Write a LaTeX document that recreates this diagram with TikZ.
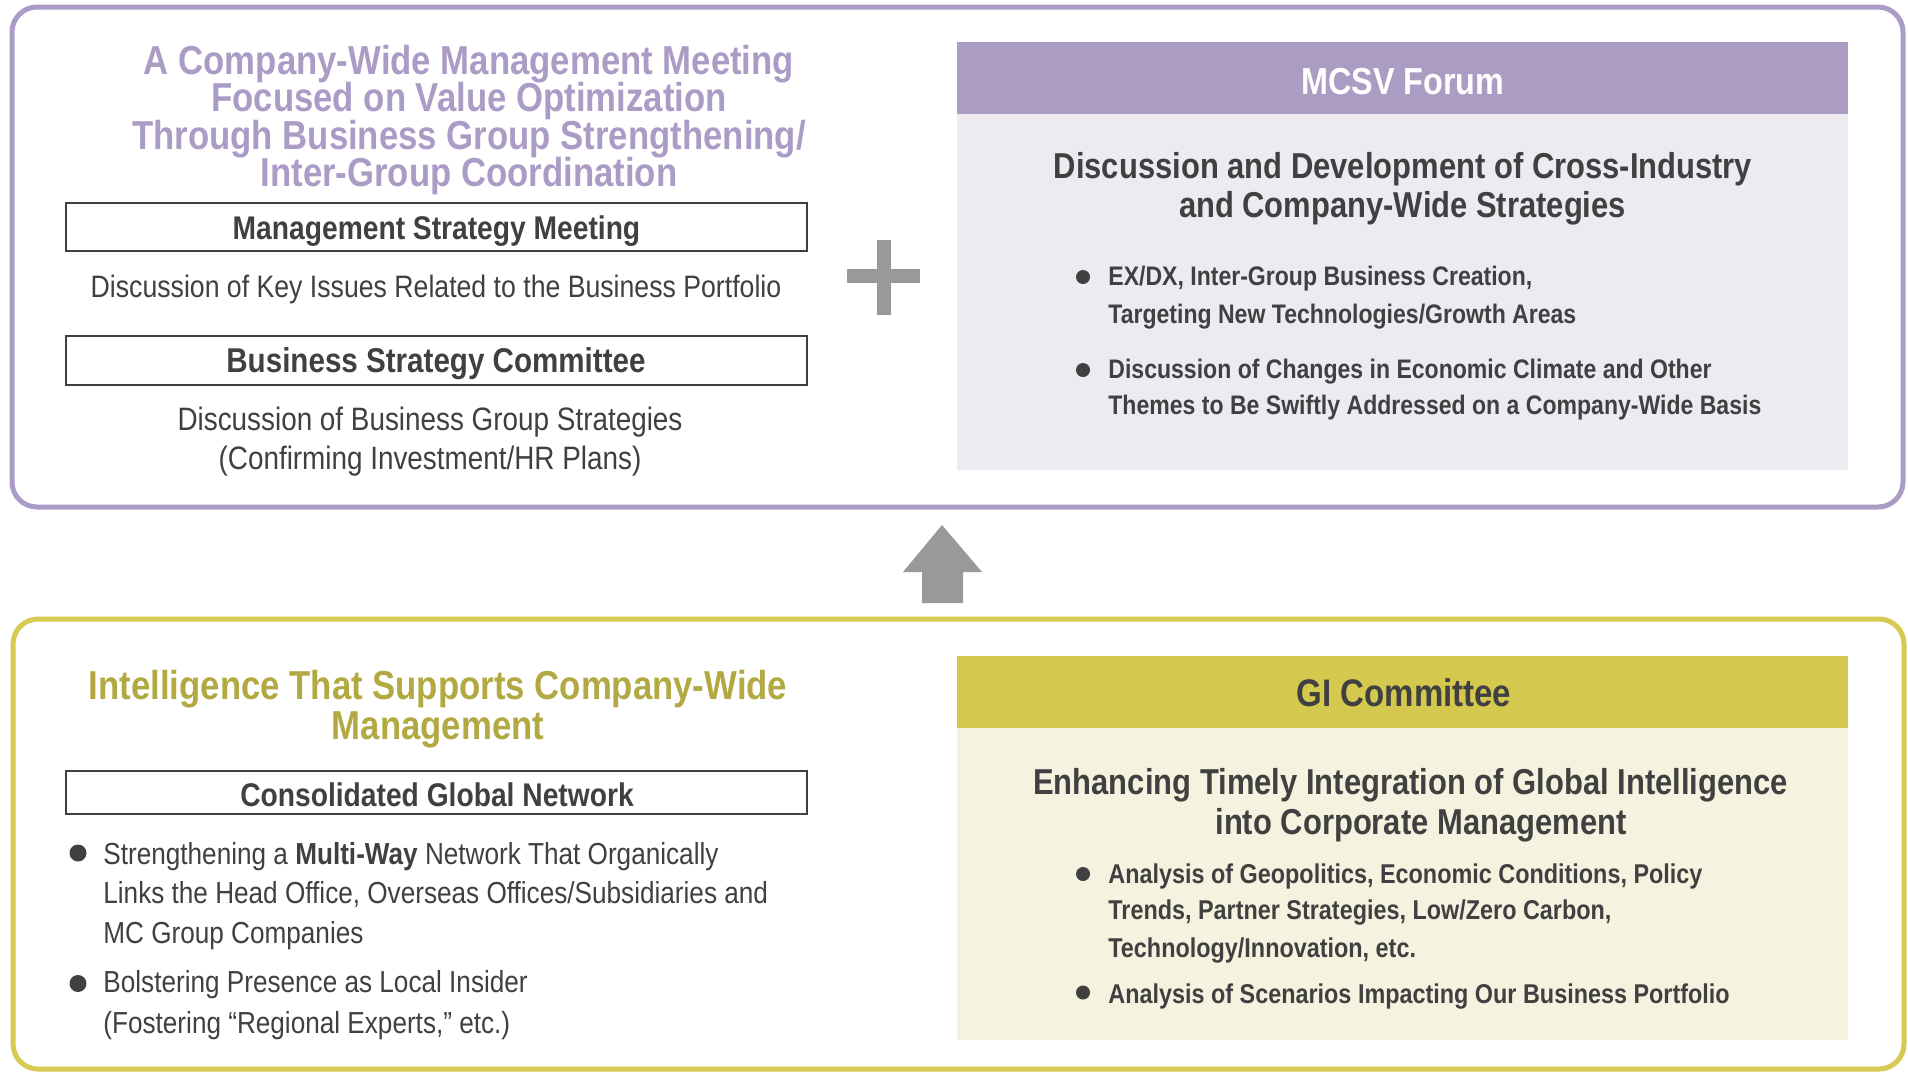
\documentclass[tikz,border=0pt]{standalone}
\usepackage{fontspec}
\setmainfont{Liberation Sans}[FakeStretch=0.86]
\definecolor{pborder}{HTML}{AA9CC6}
\definecolor{phead}{HTML}{AB9CC4}
\definecolor{pbody}{HTML}{EDEAF2}
\definecolor{ptitle}{HTML}{AB9CC6}
\definecolor{yborder}{HTML}{D6CB50}
\definecolor{yhead}{HTML}{D4C94E}
\definecolor{ybody}{HTML}{F5F3E0}
\definecolor{ytitle}{HTML}{B3A943}
\definecolor{dtext}{HTML}{404040}
\definecolor{gmark}{HTML}{999999}
\newcommand\fsz[1]{\fontsize{#1}{#1}\selectfont}
\begin{document}
\begin{tikzpicture}[x=0.5pt,y=-0.5pt,
  ctext/.style={inner sep=0pt, anchor=base, text=dtext},
  ltext/.style={inner sep=0pt, anchor=base west, text=dtext},
  outerbox/.style={line width=2.5pt, rounded corners=12.5pt},
  headbox/.style={draw=dtext, line width=1.2pt},
  bigtitle/.style={ctext, font=\bfseries\fsz{20.2pt}},
  boxhead/.style={ctext, font=\bfseries\fsz{16.5pt}},
  plaintxt/.style={ctext, font=\fsz{15.8pt}},
  bultxt/.style={ltext, font=\bfseries\fsz{13.4pt}},
  blbul/.style={ltext, font=\fsz{15.2pt}},
  paneltitle/.style={ctext, font=\bfseries\fsz{18pt}},
  panelhead/.style={ctext, font=\bfseries\fsz{19pt}},
  dot/.style={fill=dtext}]
\useasboundingbox (0,0) rectangle (1908,1072);
\fill[white] (0,0) rectangle (1908,1072);

% ---------- top section ----------
\draw[outerbox, draw=pborder] (12,7) rectangle (1903,507);

\node[bigtitle, text=ptitle] (t1) at (469,74) {A Company-Wide Management Meeting};
\node[bigtitle, text=ptitle] (t2) at (469,111.5) {Focused on Value Optimization};
\node[bigtitle, text=ptitle] (t3) at (469,149) {Through Business Group Strengthening/};
\node[bigtitle, text=ptitle] (t4) at (469,186.5) {Inter-Group Coordination};

\draw[headbox] (66,203) rectangle (807,251);
\node[boxhead, font=\bfseries\fsz{16.4pt}] (msm) at (436.5,239.5) {Management Strategy Meeting};
\node[plaintxt, font=\fsz{15.5pt}] (msmtxt) at (436,297) {Discussion of Key Issues Related to the Business Portfolio};

\draw[headbox] (66,336) rectangle (807,385);
\node[boxhead, font=\bfseries\fsz{17.2pt}] (bsc) at (436,372) {Business Strategy Committee};
\node[plaintxt, font=\fsz{16.2pt}] (bsctxta) at (430,430.5) {Discussion of Business Group Strategies};
\node[plaintxt, font=\fsz{16.2pt}] (bsctxtb) at (430,469) {(Confirming Investment/HR Plans)};

% plus sign
\fill[gmark] (877,239.5) rectangle (891,315);
\fill[gmark] (847,269) rectangle (920,282.6);

% MCSV panel
\fill[phead] (957,42) rectangle (1848,114);
\fill[pbody] (957,114) rectangle (1848,470);
\node[panelhead, text=white, font=\bfseries\fsz{18.8pt}] (mcsv) at (1403,94) {MCSV Forum};
\node[paneltitle] (mta) at (1403,178.5) {Discussion and Development of Cross-Industry};
\node[paneltitle] (mtb) at (1402.5,217) {and Company-Wide Strategies};

\fill[dot] (1083,277) circle (7);
\node[bultxt] (mb1a) at (1108,285) {EX/DX, Inter-Group Business Creation,};
\node[bultxt] (mb1b) at (1108,323.5) {Targeting New Technologies/Growth Areas};
\fill[dot] (1083,370) circle (7);
\node[bultxt] (mb2a) at (1108,378) {Discussion of Changes in Economic Climate and Other};
\node[bultxt] (mb2b) at (1108,414.5) {Themes to Be Swiftly Addressed on a Company-Wide Basis};

% arrow up
\fill[gmark] (942,525) -- (982,572) -- (963,572) -- (963,603) -- (922,603) -- (922,572) -- (903,572) -- cycle;

% ---------- bottom section ----------
\draw[outerbox, draw=yborder] (13,619) rectangle (1904,1069);

\node[bigtitle, text=ytitle] (y1) at (438,699) {Intelligence That Supports Company-Wide};
\node[bigtitle, text=ytitle] (y2) at (438,739) {Management};

\draw[headbox] (66,771) rectangle (807,814);
\node[boxhead, font=\bfseries\fsz{16.4pt}] (cgn) at (437,806) {Consolidated Global Network};

\fill[dot] (78,853) circle (8.5);
\node[blbul] (bl1a) at (103,864) {Strengthening a {\bfseries Multi-Way} Network That Organically};
\node[blbul] (bl1b) at (103,903) {Links the Head Office, Overseas Offices/Subsidiaries and};
\node[blbul] (bl1c) at (103,943) {MC Group Companies};
\fill[dot] (78,983.5) circle (8.5);
\node[blbul] (bl2a) at (103,992.7) {Bolstering Presence as Local Insider};
\node[blbul] (bl2b) at (103,1033) {(Fostering “Regional Experts,” etc.)};

% GI panel
\fill[yhead] (957,656) rectangle (1848,728);
\fill[ybody] (957,728) rectangle (1848,1040);
\node[panelhead, font=\bfseries\fsz{19.2pt}] (gi) at (1404,706) {GI Committee};
\node[paneltitle] (ga) at (1410.5,794) {Enhancing Timely Integration of Global Intelligence};
\node[paneltitle] (gb) at (1421,834) {into Corporate Management};

\fill[dot] (1083,874) circle (7);
\node[bultxt, font=\bfseries\fsz{13.6pt}] (gb1a) at (1108,883) {Analysis of Geopolitics, Economic Conditions, Policy};
\node[bultxt, font=\bfseries\fsz{13.6pt}] (gb1b) at (1108,919.7) {Trends, Partner Strategies, Low/Zero Carbon,};
\node[bultxt, font=\bfseries\fsz{13.6pt}] (gb1c) at (1108,957) {Technology/Innovation, etc.};
\fill[dot] (1083,992.5) circle (7);
\node[bultxt, font=\bfseries\fsz{13.6pt}] (gb2a) at (1108,1003) {Analysis of Scenarios Impacting Our Business Portfolio};
\end{tikzpicture}
\end{document}
